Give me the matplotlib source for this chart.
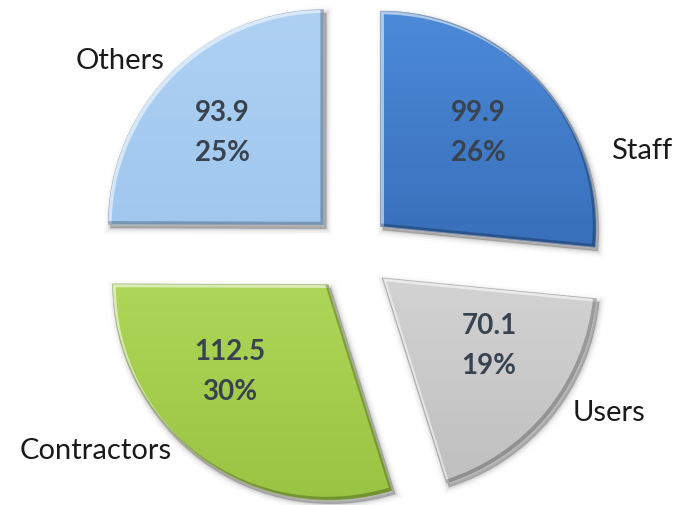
import numpy as np
import matplotlib
matplotlib.use("Agg")
import matplotlib.pyplot as plt
from matplotlib.path import Path
from matplotlib.patches import PathPatch
from matplotlib.colors import LinearSegmentedColormap

# ---- data ----
categories = ["Staff", "Users", "Contractors", "Others"]
values = [99.9, 70.1, 112.5, 93.9]
percent_labels = ["26%", "19%", "30%", "25%"]

# ---- style ----
top_colors = ["#4C8AD8", "#D3D3D3", "#AED658", "#AED1F3"]
bottom_colors = ["#386FBA", "#BFBFBF", "#9AC343", "#A0C7EE"]
value_color = "#38434f"
label_color = "#1a1a1a"

W, H = 677, 505
fig = plt.figure(figsize=(W / 100, H / 100), dpi=100)
ax = fig.add_axes([0, 0, 1, 1])

center = (351.5, H - 253)
radius = 216
gap = 39

wedges, _ = ax.pie(values, radius=radius, center=center,
                   explode=[gap] * len(values), startangle=90,
                   counterclock=False, wedgeprops=dict(linewidth=0))

ax.set_xlim(0, W)
ax.set_ylim(0, H)
ax.set_aspect("equal")
ax.axis("off")

for i, w in enumerate(wedges):
    path = w.get_path()
    verts, codes = path.vertices, path.codes
    x0, y0 = verts[:, 0].min(), verts[:, 1].min()
    x1, y1 = verts[:, 0].max(), verts[:, 1].max()
    w.set_facecolor("none")
    w.set_zorder(3)

    # soft drop shadow
    sh = Path(verts + np.array([2.5, -3.5]), codes)
    for lw, a in [(9, 0.02), (6, 0.035), (3.5, 0.05), (1.5, 0.07), (0, 0.09)]:
        ax.add_patch(PathPatch(sh, facecolor=(0, 0, 0, a), edgecolor=(0, 0, 0, a),
                               linewidth=lw, zorder=1))

    # vertical gradient fill clipped to the slice
    cmap = LinearSegmentedColormap.from_list(f"g{i}", [bottom_colors[i], top_colors[i]])
    grad = np.linspace(0, 1, 256).reshape(-1, 1)
    im = ax.imshow(grad, extent=(x0, x1, y0, y1), origin="lower", cmap=cmap,
                   aspect="auto", zorder=2, interpolation="bilinear")
    base = PathPatch(path, facecolor="none", edgecolor="none", zorder=2)
    ax.add_patch(base)
    im.set_clip_path(base)

    # bevel: light rim on upper edges, dark rim on lower edges
    hi = PathPatch(Path(verts + np.array([1.5, -1.5]), codes), fill=False,
                   edgecolor=(1, 1, 1, 0.55), linewidth=3, zorder=4)
    ax.add_patch(hi)
    hi.set_clip_path(base)
    lo = PathPatch(Path(verts + np.array([-1.5, 1.5]), codes), fill=False,
                   edgecolor=(0, 0, 0, 0.25), linewidth=3, zorder=4)
    ax.add_patch(lo)
    lo.set_clip_path(base)

# ---- value / percentage labels ----
value_pos = [(478, 133), (489, 346), (230, 372), (222, 133)]
for (x, y), v, p in zip(value_pos, values, percent_labels):
    ax.text(x, H - (y - 20), f"{v:.1f}", ha="center", va="center",
            fontsize=20, fontweight="bold", family="Lato", color=value_color, zorder=5)
    ax.text(x, H - (y + 20), p, ha="center", va="center",
            fontsize=20, fontweight="bold", family="Lato", color=value_color, zorder=5)

# ---- category labels ----
label_pos = [(642, 151), (609, 413), (96, 451), (120, 61)]
for (x, y), c in zip(label_pos, categories):
    ax.text(x, H - y, c, ha="center", va="center", fontsize=21,
            family="Lato", color=label_color, zorder=5)

fig.savefig("out.png", dpi=100)
